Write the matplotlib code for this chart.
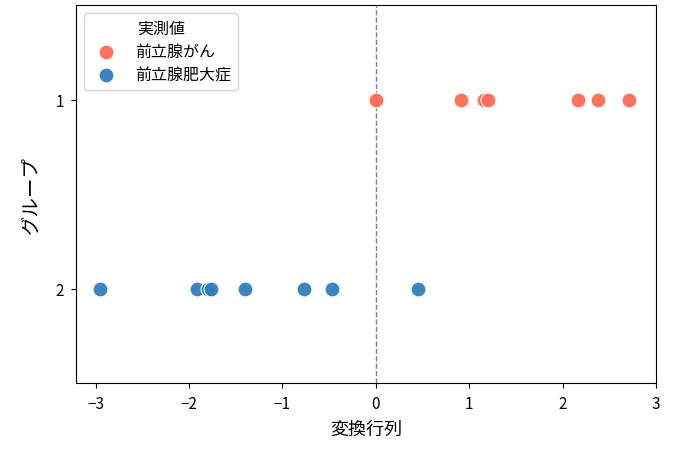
import matplotlib.pyplot as plt

plt.rcParams['font.family'] = ['Noto Sans CJK JP', 'DejaVu Sans']

# 前立腺がん (group 1) / 前立腺肥大症 (group 2)
cancer_x = [0.0, 0.91, 1.16, 1.20, 2.17, 2.38, 2.71]
bph_x = [-2.95, -1.92, -1.80, -1.76, -1.40, -0.77, -0.47, 0.45]
groups = [1, 2]
labels = ["前立腺がん", "前立腺肥大症"]
colors = ["#FF6B55", "#2F7FBC"]

fig = plt.figure(figsize=(6.79, 4.52), dpi=100)
ax = fig.add_axes([0.112, 0.150, 0.854, 0.836])

ax.axvline(0, color="gray", linestyle="--", linewidth=1, zorder=1)

for xs, g, lab, c in zip([cancer_x, bph_x], groups, labels, colors):
    ax.scatter(xs, [g] * len(xs), s=115, color=c, edgecolor="white",
               linewidth=0.8, alpha=0.95, label=lab, zorder=3)

ax.set_xlim(-3.21, 3.0)
ax.set_ylim(2.5, 0.5)
ax.set_yticks(groups)
ax.set_yticklabels([str(g) for g in groups])
ax.tick_params(labelsize=11, pad=5)
ax.set_xlabel("変換行列", fontsize=13, labelpad=6)
ax.set_ylabel("グループ", fontsize=14, labelpad=10)

leg = ax.legend(title="実測値", loc="upper left", fontsize=11.5,
                title_fontsize=11.5, labelspacing=0.4)

fig.savefig("out.png", dpi=100)
